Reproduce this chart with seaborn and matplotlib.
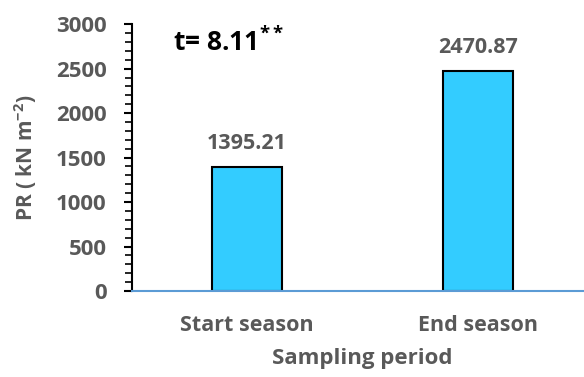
import matplotlib
matplotlib.use("Agg")
import matplotlib.pyplot as plt
import seaborn as sns
import pandas as pd
from matplotlib.ticker import MultipleLocator

# 数据
periods = ["Start season", "End season"]
pr_values = [1395.21, 2470.87]
t_text = "t= 8.11$^{**}$"

df = pd.DataFrame({"period": periods, "PR": pr_values})

sns.set_style("white")
plt.rcParams["font.family"] = ["Open Sans", "DejaVu Sans"]
plt.rcParams["mathtext.fontset"] = "custom"
plt.rcParams["mathtext.rm"] = "Open Sans:bold"
plt.rcParams["mathtext.default"] = "rm"

gray = "#595959"

fig = plt.figure(figsize=(5.84, 3.77), dpi=100)
ax = fig.add_axes([0.2252, 0.228, 0.791, 0.708])

sns.barplot(data=df, x="period", y="PR", color="#33CCFF", width=0.30,
            edgecolor="black", linewidth=1.5, saturation=1, ax=ax)

ax.set_xlim(-0.5, 1.5)
ax.set_ylim(0, 3000)
ax.yaxis.set_major_locator(MultipleLocator(500))
ax.yaxis.set_minor_locator(MultipleLocator(100))
ax.tick_params(axis="y", which="major", length=6, width=1.5, color="black",
               direction="out", left=True, labelsize=16, labelcolor=gray, pad=12)
ax.tick_params(axis="y", which="minor", length=5, width=1.2, color="black",
               direction="out", left=True)
ax.tick_params(axis="x", length=0, labelsize=15.5, labelcolor=gray, pad=17)
for lab in ax.get_yticklabels() + ax.get_xticklabels():
    lab.set_fontweight("bold")

for s in ["top", "right"]:
    ax.spines[s].set_visible(False)
ax.spines["left"].set_color("black")
ax.spines["left"].set_linewidth(1.5)
ax.spines["bottom"].set_color("#5B9BD5")
ax.spines["bottom"].set_linewidth(1.5)

for i, v in enumerate(pr_values):
    ax.text(i, v + 150, f"{v:.2f}", ha="center", va="bottom", fontsize=15.5,
            fontweight="bold", color=gray)

ax.text(0.09, 0.985, t_text, transform=ax.transAxes, ha="left", va="top",
        fontsize=19, fontweight="bold", color="black")

ax.set_xlabel("Sampling period", fontsize=16, fontweight="bold", color=gray, labelpad=9)
ax.set_ylabel("PR ( kN m$^{-2}$)", fontsize=15, fontweight="bold", color=gray, labelpad=12)

fig.savefig("out.png", dpi=100)
